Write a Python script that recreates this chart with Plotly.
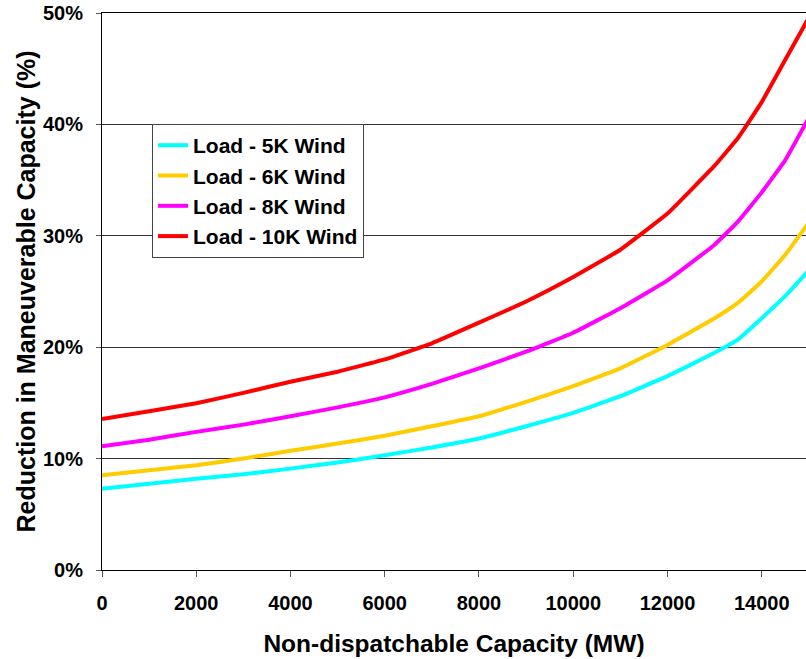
import plotly.graph_objects as go

x_mw = [0, 1000, 2000, 3000, 4000, 5000, 6000, 7000, 8000, 9000, 10000,
        11000, 12000, 13000, 13500, 14000, 14500, 15000]

wind_5k = [7.3, 7.75, 8.2, 8.6, 9.1, 9.65, 10.3, 11.0, 11.8, 12.9, 14.1,
           15.6, 17.4, 19.5, 20.7, 22.6, 24.6, 26.9]
wind_6k = [8.5, 8.95, 9.4, 10.0, 10.7, 11.35, 12.05, 12.9, 13.8, 15.1, 16.5,
           18.1, 20.2, 22.6, 24.0, 25.9, 28.3, 31.2]
wind_8k = [11.1, 11.7, 12.4, 13.05, 13.8, 14.6, 15.5, 16.7, 18.1, 19.6, 21.3,
           23.5, 26.0, 29.2, 31.3, 33.9, 36.8, 40.6]
wind_10k = [13.55, 14.25, 14.97, 15.9, 16.9, 17.8, 18.9, 20.35, 22.2, 24.1, 26.3,
            28.75, 32.0, 36.3, 38.8, 42.0, 45.8, 49.6]

series_names = ["Load - 5K Wind", "Load - 6K Wind", "Load - 8K Wind", "Load - 10K Wind"]
series_vals = [wind_5k, wind_6k, wind_8k, wind_10k]
series_colors = ["#00FFFF", "#FFCC00", "#FF00FF", "#FF0000"]

x_ticks = [0, 2000, 4000, 6000, 8000, 10000, 12000, 14000]
y_ticks = [0, 10, 20, 30, 40, 50]
y_tick_text = ["0%", "10%", "20%", "30%", "40%", "50%"]

FONT = "Liberation Sans, Arial, sans-serif"

fig = go.Figure()
for name, vals, col in zip(series_names, series_vals, series_colors):
    fig.add_trace(go.Scatter(x=x_mw, y=vals, mode="lines", name=name,
                             line=dict(color=col, width=4, shape="spline", smoothing=0.3)))

fig.update_layout(
    width=806, height=659,
    margin=dict(l=102, r=0, t=13, b=89, autoexpand=False),
    paper_bgcolor="white", plot_bgcolor="white",
    font=dict(family=FONT, color="black", size=20, weight="bold"),
    showlegend=True,
    legend=dict(x=0.071, y=0.8006, xanchor="left", yanchor="top",
                bgcolor="white", bordercolor="#444", borderwidth=1,
                font=dict(family=FONT, size=21, weight="bold", color="black"),
                itemwidth=30, tracegroupgap=0),
    xaxis=dict(range=[0, 14940], tickvals=x_ticks, ticktext=[str(t) for t in x_ticks],
               automargin=False, mirror=True,
               showline=True, linecolor="black", linewidth=1,
               ticks="outside", ticklen=6, tickcolor="#555", ticklabelstandoff=9,
               showgrid=False, zeroline=False,
               tickfont=dict(family=FONT, size=20, weight="bold"),
               title=dict(text="Non-dispatchable Capacity (MW)", standoff=21,
                          font=dict(family=FONT, size=24.5, weight="bold"))),
    yaxis=dict(range=[0, 50], tickvals=y_ticks, ticktext=y_tick_text,
               automargin=False, ticklabeloverflow="allow",
               showline=True, linecolor="black", linewidth=1,
               ticks="outside", ticklen=5, tickcolor="#555", ticklabelstandoff=9,
               showgrid=True, gridcolor="#333", gridwidth=1, zeroline=False,
               tickfont=dict(family=FONT, size=20, weight="bold"),
               title=dict(text="Reduction in Maneuverable Capacity (%)", standoff=0,
                          font=dict(family=FONT, size=25, weight="bold"))),
)

fig.write_html("out.html", config={"displayModeBar": False},
               post_script="document.body.style.margin='0px';")
